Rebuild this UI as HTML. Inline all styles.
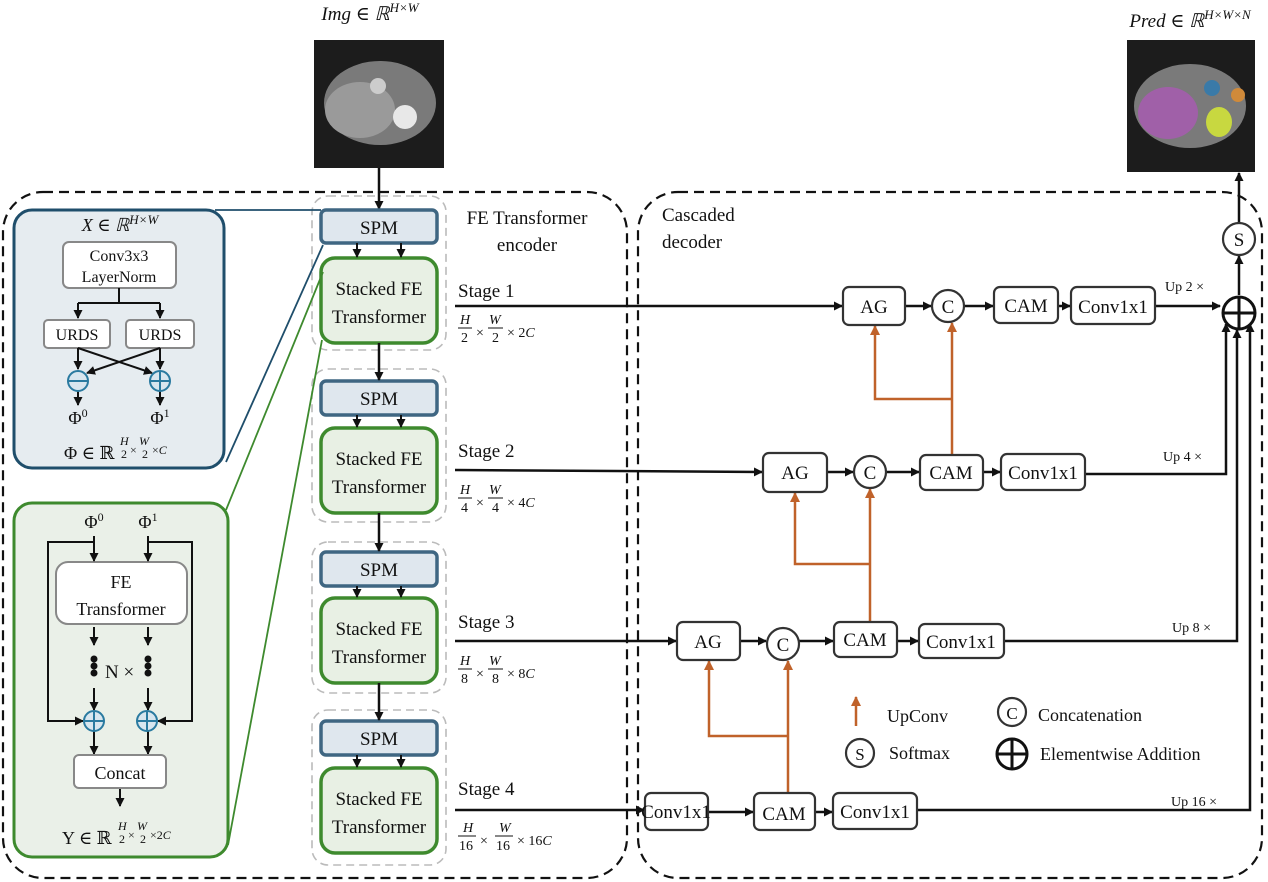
<!DOCTYPE html>
<html><head><meta charset="utf-8"><style>
body{margin:0;background:#fff}
svg{display:block}
text{font-family:"Liberation Serif","DejaVu Serif",serif;fill:#111}
.it{font-style:italic}
</style></head><body>
<svg width="1268" height="882" viewBox="0 0 1268 882" xmlns="http://www.w3.org/2000/svg">
<defs>
<marker id="a" markerWidth="9" markerHeight="9" refX="8" refY="4.5" orient="auto" markerUnits="userSpaceOnUse"><path d="M0,0 L9,4.5 L0,9 z" fill="#111"/></marker>
<marker id="o" markerWidth="10" markerHeight="10" refX="9" refY="5" orient="auto" markerUnits="userSpaceOnUse"><path d="M0,0 L10,5 L0,10 z" fill="#c0622a"/></marker>
</defs>

<rect x="3" y="192" width="624" height="686" rx="40" fill="none" stroke="#111" stroke-width="2.2" stroke-dasharray="10,6"/>
<rect x="638" y="192" width="624" height="686" rx="40" fill="none" stroke="#111" stroke-width="2.2" stroke-dasharray="10,6"/>

<text x="370" y="20" font-size="19" text-anchor="middle" class="it">Img ∈ ℝ<tspan font-size="13" dy="-8">H×W</tspan></text>
<rect x="314" y="40" width="130" height="128" fill="#1c1c1c"/>
<ellipse cx="380" cy="103" rx="56" ry="42" fill="#7a7a7a"/>
<ellipse cx="360" cy="110" rx="35" ry="28" fill="#9a9a9a"/>
<circle cx="405" cy="117" r="12" fill="#e8e8e8"/>
<circle cx="378" cy="86" r="8" fill="#ccc"/>
<text x="1190" y="27" font-size="19" text-anchor="middle" class="it">Pred ∈ ℝ<tspan font-size="13" dy="-8">H×W×N</tspan></text>
<rect x="1127" y="40" width="128" height="132" fill="#1c1c1c"/>
<ellipse cx="1190" cy="106" rx="56" ry="42" fill="#7a7a7a"/>
<ellipse cx="1168" cy="113" rx="30" ry="26" fill="#a060a8"/>
<ellipse cx="1219" cy="122" rx="13" ry="15" fill="#c8d840"/>
<circle cx="1212" cy="88" r="8" fill="#3a7aa8"/>
<circle cx="1238" cy="95" r="7" fill="#d08a3a"/>

<line x1="379" y1="168" x2="379" y2="209" stroke="#111" stroke-width="2.5" marker-end="url(#a)"/>

<text x="527" y="224" font-size="19" text-anchor="middle">FE Transformer</text>
<text x="527" y="251" font-size="19" text-anchor="middle">encoder</text>
<text x="662" y="221" font-size="19">Cascaded</text>
<text x="662" y="248" font-size="19">decoder</text>

<g fill="none" stroke="#bbb" stroke-width="1.6" stroke-dasharray="8,5">
<rect x="312" y="196" width="134" height="154" rx="16"/>
<rect x="312" y="369" width="134" height="153" rx="16"/>
<rect x="312" y="542" width="134" height="151" rx="16"/>
<rect x="312" y="710" width="134" height="155" rx="16"/>
</g>
<g font-size="19" text-anchor="middle">
<g fill="#dfe7ee" stroke="#3f6682" stroke-width="3.5">
<rect x="321" y="210" width="116" height="33" rx="5"/>
<rect x="321" y="381" width="116" height="34" rx="5"/>
<rect x="321" y="552" width="116" height="34" rx="5"/>
<rect x="321" y="721" width="116" height="34" rx="5"/>
</g>
<text x="379" y="234">SPM</text><text x="379" y="405">SPM</text><text x="379" y="576">SPM</text><text x="379" y="745">SPM</text>
<g fill="#e8f0e4" stroke="#3e8a2e" stroke-width="3.5">
<rect x="321" y="258" width="116" height="85" rx="14"/>
<rect x="321" y="428" width="116" height="85" rx="14"/>
<rect x="321" y="598" width="116" height="85" rx="14"/>
<rect x="321" y="768" width="116" height="85" rx="14"/>
</g>
<text x="379" y="295">Stacked FE</text><text x="379" y="323">Transformer</text>
<text x="379" y="465">Stacked FE</text><text x="379" y="493">Transformer</text>
<text x="379" y="635">Stacked FE</text><text x="379" y="663">Transformer</text>
<text x="379" y="805">Stacked FE</text><text x="379" y="833">Transformer</text>
</g>
<g stroke="#111" stroke-width="2" marker-end="url(#a)">
<line x1="357" y1="243" x2="357" y2="257"/><line x1="401" y1="243" x2="401" y2="257"/>
<line x1="357" y1="415" x2="357" y2="427"/><line x1="401" y1="415" x2="401" y2="427"/>
<line x1="357" y1="586" x2="357" y2="597"/><line x1="401" y1="586" x2="401" y2="597"/>
<line x1="357" y1="755" x2="357" y2="767"/><line x1="401" y1="755" x2="401" y2="767"/>
</g>
<g stroke="#111" stroke-width="2.5" marker-end="url(#a)">
<line x1="379" y1="343" x2="379" y2="380"/>
<line x1="379" y1="513" x2="379" y2="551"/>
<line x1="379" y1="683" x2="379" y2="720"/>
</g>

<g font-size="19">
<text x="458" y="297">Stage 1</text><text x="458" y="457">Stage 2</text>
<text x="458" y="628">Stage 3</text><text x="458" y="795">Stage 4</text>
</g>
<g font-size="14" class="it">
<g transform="translate(458,0)">
<text x="2" y="324">H</text><line x1="0" y1="328" x2="14" y2="328" stroke="#111"/><text x="3" y="342" font-style="normal">2</text><text x="18" y="337" font-style="normal">×</text>
<text x="31" y="324">W</text><line x1="30" y1="328" x2="45" y2="328" stroke="#111"/><text x="34" y="342" font-style="normal">2</text><text x="49" y="337"><tspan font-style="normal">× 2</tspan>C</text></g>
<g transform="translate(458,170)">
<text x="2" y="324">H</text><line x1="0" y1="328" x2="14" y2="328" stroke="#111"/><text x="3" y="342" font-style="normal">4</text><text x="18" y="337" font-style="normal">×</text>
<text x="31" y="324">W</text><line x1="30" y1="328" x2="45" y2="328" stroke="#111"/><text x="34" y="342" font-style="normal">4</text><text x="49" y="337"><tspan font-style="normal">× 4</tspan>C</text></g>
<g transform="translate(458,341)">
<text x="2" y="324">H</text><line x1="0" y1="328" x2="14" y2="328" stroke="#111"/><text x="3" y="342" font-style="normal">8</text><text x="18" y="337" font-style="normal">×</text>
<text x="31" y="324">W</text><line x1="30" y1="328" x2="45" y2="328" stroke="#111"/><text x="34" y="342" font-style="normal">8</text><text x="49" y="337"><tspan font-style="normal">× 8</tspan>C</text></g>
<g transform="translate(458,508)">
<text x="5" y="324">H</text><line x1="0" y1="328" x2="18" y2="328" stroke="#111"/><text x="1" y="342" font-style="normal">16</text><text x="22" y="337" font-style="normal">×</text>
<text x="41" y="324">W</text><line x1="37" y1="328" x2="55" y2="328" stroke="#111"/><text x="38" y="342" font-style="normal">16</text><text x="59" y="337"><tspan font-style="normal">× 16</tspan>C</text></g>
</g>

<g stroke="#111" stroke-width="2.5" fill="none" marker-end="url(#a)">
<line x1="455" y1="306" x2="842" y2="306"/>
<line x1="455" y1="470" x2="762" y2="472"/>
<line x1="455" y1="641" x2="676" y2="641"/>
<line x1="455" y1="810" x2="644" y2="810"/>
<line x1="905" y1="306" x2="931" y2="306"/><line x1="964" y1="306" x2="993" y2="306"/><line x1="1058" y1="306" x2="1070" y2="306"/><line x1="1155" y1="306" x2="1220" y2="306"/>
<line x1="827" y1="472" x2="853" y2="472"/><line x1="886" y1="472" x2="919" y2="472"/><line x1="983" y1="472" x2="1000" y2="472"/>
<polyline points="1085,474 1226,474 1226,324"/>
<line x1="740" y1="641" x2="766" y2="641"/><line x1="799" y1="641" x2="833" y2="641"/><line x1="897" y1="641" x2="918" y2="641"/>
<polyline points="1004,641 1237,641 1237,330"/>
<line x1="708" y1="812" x2="753" y2="812"/><line x1="815" y1="812" x2="832" y2="812"/>
<polyline points="917,810 1250,810 1250,324"/>
<line x1="1239" y1="295" x2="1239" y2="256"/>
<line x1="1239" y1="223" x2="1239" y2="173"/>
</g>
<g stroke="#c0622a" stroke-width="2.5" fill="none">
<line x1="952" y1="455" x2="952" y2="323" marker-end="url(#o)"/><polyline points="952,399 875,399 875,326" marker-end="url(#o)"/>
<line x1="870" y1="622" x2="870" y2="489" marker-end="url(#o)"/><polyline points="870,564 795,564 795,493" marker-end="url(#o)"/>
<line x1="788" y1="793" x2="788" y2="661" marker-end="url(#o)"/><polyline points="788,736 709,736 709,661" marker-end="url(#o)"/>
<line x1="856" y1="726" x2="856" y2="697" marker-end="url(#o)"/>
</g>

<g fill="#fff" stroke="#333" stroke-width="2.2">
<rect x="843" y="287" width="62" height="38" rx="6"/><circle cx="948" cy="306" r="16"/><rect x="994" y="287" width="64" height="36" rx="6"/><rect x="1071" y="287" width="84" height="37" rx="6"/>
<rect x="763" y="453" width="64" height="39" rx="6"/><circle cx="870" cy="472" r="16"/><rect x="920" y="455" width="63" height="35" rx="6"/><rect x="1001" y="454" width="84" height="36" rx="6"/>
<rect x="677" y="622" width="63" height="38" rx="6"/><circle cx="783" cy="644" r="16"/><rect x="834" y="622" width="63" height="35" rx="6"/><rect x="919" y="624" width="85" height="34" rx="6"/>
<rect x="645" y="793" width="63" height="37" rx="6"/><rect x="754" y="793" width="61" height="37" rx="6"/><rect x="833" y="793" width="84" height="36" rx="6"/>
<circle cx="1239" cy="239" r="16"/>
<circle cx="860" cy="753" r="14"/><circle cx="1012" cy="712" r="14"/>
</g>
<g fill="#fff" stroke="#111" stroke-width="3">
<circle cx="1239" cy="313" r="16"/><line x1="1223" y1="313" x2="1255" y2="313"/><line x1="1239" y1="297" x2="1239" y2="329"/>
<circle cx="1012" cy="754" r="15"/><line x1="997" y1="754" x2="1027" y2="754"/><line x1="1012" y1="739" x2="1012" y2="769"/>
</g>
<g font-size="19" text-anchor="middle">
<text x="874" y="313">AG</text><text x="948" y="313">C</text><text x="1026" y="312">CAM</text><text x="1113" y="313">Conv1x1</text>
<text x="795" y="479">AG</text><text x="870" y="479">C</text><text x="951" y="479">CAM</text><text x="1043" y="479">Conv1x1</text>
<text x="708" y="648">AG</text><text x="783" y="651">C</text><text x="865" y="646">CAM</text><text x="961" y="648">Conv1x1</text>
<text x="676" y="818">Conv1x1</text><text x="784" y="820">CAM</text><text x="875" y="818">Conv1x1</text>
<text x="1239" y="246">S</text><text x="860" y="760" font-size="17">S</text><text x="1012" y="719" font-size="17">C</text>
</g>
<g font-size="18">
<text x="887" y="722">UpConv</text><text x="889" y="759">Softmax</text>
<text x="1038" y="721">Concatenation</text><text x="1040" y="760">Elementwise Addition</text>
</g>
<g font-size="14">
<text x="1165" y="291">Up 2 ×</text><text x="1163" y="461">Up 4 ×</text>
<text x="1172" y="632">Up 8 ×</text><text x="1171" y="806">Up 16 ×</text>
</g>

<line x1="215" y1="210" x2="321" y2="210" stroke="#1f4e6b" stroke-width="1.8"/>
<line x1="226" y1="462" x2="323" y2="245" stroke="#1f4e6b" stroke-width="1.8"/>
<line x1="226" y1="510" x2="323" y2="272" stroke="#3e8a2e" stroke-width="1.8"/>
<line x1="228" y1="845" x2="322" y2="340" stroke="#3e8a2e" stroke-width="1.8"/>

<rect x="14" y="210" width="210" height="258" rx="18" fill="#e6ecf0" stroke="#1f4e6b" stroke-width="3"/>
<text x="120" y="231" font-size="18" text-anchor="middle" class="it">X ∈ ℝ<tspan font-size="13" dy="-7">H×W</tspan></text>
<rect x="63" y="242" width="113" height="46" rx="6" fill="#fff" stroke="#888" stroke-width="2"/>
<text x="119" y="261" font-size="16" text-anchor="middle">Conv3x3</text><text x="119" y="282" font-size="16" text-anchor="middle">LayerNorm</text>
<rect x="44" y="320" width="66" height="28" rx="4" fill="#fff" stroke="#888" stroke-width="2"/>
<rect x="126" y="320" width="68" height="28" rx="4" fill="#fff" stroke="#888" stroke-width="2"/>
<text x="77" y="340" font-size="16" text-anchor="middle">URDS</text><text x="160" y="340" font-size="16" text-anchor="middle">URDS</text>
<g stroke="#111" stroke-width="2" fill="none">
<line x1="119" y1="288" x2="119" y2="303"/>
<polyline points="78,303 160,303" /><line x1="78" y1="303" x2="78" y2="318" marker-end="url(#a)"/><line x1="160" y1="303" x2="160" y2="318" marker-end="url(#a)"/>
<line x1="78" y1="348" x2="78" y2="369" marker-end="url(#a)"/><line x1="160" y1="348" x2="160" y2="369" marker-end="url(#a)"/>
<line x1="78" y1="348" x2="152" y2="373" marker-end="url(#a)"/><line x1="160" y1="348" x2="87" y2="373" marker-end="url(#a)"/>
<line x1="78" y1="391" x2="78" y2="405" marker-end="url(#a)"/><line x1="160" y1="391" x2="160" y2="405" marker-end="url(#a)"/>
</g>
<g fill="#d8e6ef" stroke="#2a7aa0" stroke-width="2">
<circle cx="78" cy="381" r="10"/><line x1="68" y1="381" x2="88" y2="381"/>
<circle cx="160" cy="381" r="10"/><line x1="150" y1="381" x2="170" y2="381"/><line x1="160" y1="371" x2="160" y2="391"/>
</g>
<text x="78" y="424" font-size="18" text-anchor="middle">Φ<tspan font-size="12" dy="-7">0</tspan></text>
<text x="160" y="424" font-size="18" text-anchor="middle">Φ<tspan font-size="12" dy="-7">1</tspan></text>
<text x="64" y="459" font-size="18">Φ ∈ ℝ</text>
<g font-size="12"><text x="120" y="445" font-style="italic">H</text><text x="121" y="458">2</text><text x="130" y="454">×</text><text x="139" y="445" font-style="italic">W</text><text x="142" y="458">2</text><text x="152" y="454">×<tspan font-style="italic">C</tspan></text></g>

<rect x="14" y="503" width="214" height="354" rx="18" fill="#eaf0e8" stroke="#3e8a2e" stroke-width="3"/>
<text x="94" y="528" font-size="18" text-anchor="middle">Φ<tspan font-size="12" dy="-7">0</tspan></text>
<text x="148" y="528" font-size="18" text-anchor="middle">Φ<tspan font-size="12" dy="-7">1</tspan></text>
<rect x="56" y="562" width="131" height="62" rx="12" fill="#fff" stroke="#888" stroke-width="2"/>
<text x="121" y="588" font-size="18" text-anchor="middle">FE</text><text x="121" y="615" font-size="18" text-anchor="middle">Transformer</text>
<g stroke="#111" stroke-width="2" fill="none">
<polyline points="94,542 48,542 48,721 83,721" marker-end="url(#a)"/>
<polyline points="148,542 192,542 192,721 158,721" marker-end="url(#a)"/>
<line x1="94" y1="536" x2="94" y2="561" marker-end="url(#a)"/><line x1="148" y1="536" x2="148" y2="561" marker-end="url(#a)"/>
<line x1="94" y1="627" x2="94" y2="645" marker-end="url(#a)"/><line x1="148" y1="627" x2="148" y2="645" marker-end="url(#a)"/>
<line x1="94" y1="688" x2="94" y2="710" marker-end="url(#a)"/><line x1="148" y1="688" x2="148" y2="710" marker-end="url(#a)"/>
<line x1="94" y1="731" x2="94" y2="754" marker-end="url(#a)"/><line x1="148" y1="731" x2="148" y2="754" marker-end="url(#a)"/>
<line x1="120" y1="788" x2="120" y2="806" marker-end="url(#a)"/>
</g>
<g fill="#111"><circle cx="94" cy="659" r="3.5"/><circle cx="94" cy="666" r="3.5"/><circle cx="94" cy="673" r="3.5"/>
<circle cx="148" cy="659" r="3.5"/><circle cx="148" cy="666" r="3.5"/><circle cx="148" cy="673" r="3.5"/></g>
<text x="105" y="678" font-size="19">N ×</text>
<g fill="#d8e6ef" stroke="#2a7aa0" stroke-width="2">
<circle cx="94" cy="721" r="10"/><line x1="84" y1="721" x2="104" y2="721"/><line x1="94" y1="711" x2="94" y2="731"/>
<circle cx="147" cy="721" r="10"/><line x1="137" y1="721" x2="157" y2="721"/><line x1="147" y1="711" x2="147" y2="731"/>
</g>
<rect x="74" y="755" width="92" height="33" rx="5" fill="#fff" stroke="#888" stroke-width="2"/>
<text x="120" y="779" font-size="18" text-anchor="middle">Concat</text>
<text x="62" y="844" font-size="18">Y ∈ ℝ</text>
<g font-size="12"><text x="118" y="830" font-style="italic">H</text><text x="119" y="843">2</text><text x="128" y="839">×</text><text x="137" y="830" font-style="italic">W</text><text x="140" y="843">2</text><text x="150" y="839">×2<tspan font-style="italic">C</tspan></text></g>
</svg>
</body></html>
